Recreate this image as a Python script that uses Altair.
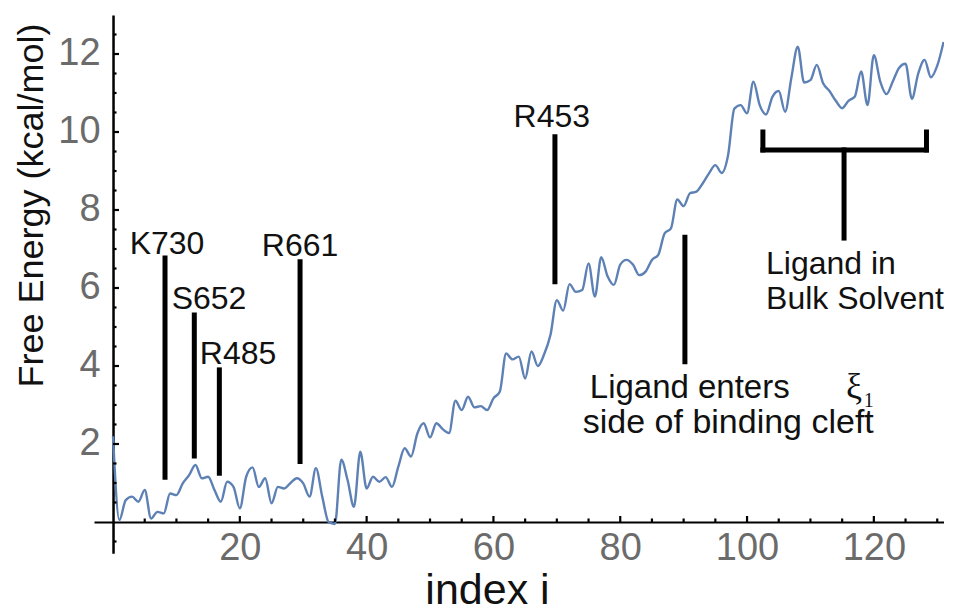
import altair as alt
import pandas as pd

# ---------------- data ----------------
index_i = list(range(0, 132))
free_energy = [
    2.2, 0.05, 0.56, 0.65, 0.52, 0.82, 0.09, 0.26, 0.22, 0.73,
    0.69, 0.99, 1.2, 1.46, 1.12, 1.16, 0.82, 0.52, 1.03, 0.9,
    0.35, 1.16, 1.40, 0.90, 1.12, 0.48, 0.9, 0.86, 1.0, 1.12,
    0.99, 0.65, 1.38, 0.65, 0.0, -0.05, 1.6, 1.07, 0.39, 1.80,
    0.86, 1.16, 1.03, 1.15, 0.9, 1.42, 1.89, 1.68, 2.27, 2.53,
    2.17, 2.53, 2.38, 2.28, 3.11, 2.87, 3.21, 2.94, 2.97, 2.87,
    3.17, 3.34, 4.32, 4.17, 4.24, 3.68, 4.37, 4.0, 4.3, 4.8,
    5.69, 5.42, 6.1, 5.9, 5.95, 6.63, 5.78, 6.79, 6.3, 6.08,
    6.6, 6.72, 6.6, 6.33, 6.42, 6.72, 6.85, 7.40, 7.53, 8.27,
    8.10, 8.43, 8.47, 8.68, 8.94, 9.15, 8.95, 9.4, 10.6, 10.69,
    10.48, 11.29, 10.69, 10.45, 10.9, 11.05, 10.52, 11.4, 12.19, 11.27,
    11.33, 11.72, 11.25, 11.05, 10.8, 10.61, 10.8, 10.91, 11.55, 10.69,
    11.97, 11.3, 10.97, 11.3, 11.65, 11.75, 10.85, 11.5, 11.85, 11.4,
    11.7, 12.31,
]

# residue markers (vertical bars) and the bracket
seg_x = [8.2, 12.82, 16.77, 29.5, 69.7, 90.2, 102.5, 102.5, 128.3, 115.3]
seg_x2 = [8.2, 12.82, 16.77, 29.5, 69.7, 90.2, 128.3, 102.5, 128.3, 115.3]
seg_y = [6.77, 5.31, 3.9, 6.67, 9.88, 7.3, 9.54, 10.0, 10.0, 9.54]
seg_y2 = [1.15, 1.69, 1.25, 1.55, 6.16, 4.11, 9.54, 9.54, 9.54, 7.28]

res_labels = ["K730", "S652", "R485", "R661", "R453"]
res_x = [8.52, 15.14, 19.72, 29.5, 69.2]
res_y = [6.86, 5.47, 4.06, 6.83, 10.12]

note_labels = ["Ligand enters", "side of binding cleft", "Ligand in", "Bulk Solvent"]
note_x = [75.2, 74.1, 103.0, 103.0]
note_y = [3.19, 2.27, 6.37, 5.47]
note_size = [33, 34, 32, 32]

xi_labels = ["ξ", "1"]
xi_x = [115.6, 118.4]
xi_y = [3.19, 2.95]
xi_size = [36, 20]

x_labels = [20, 40, 60, 80, 100, 120]
x_ticks = [v for v in range(5, 131, 5)]
y_labels = [2, 4, 6, 8, 10, 12]
y_ticks = [v / 2 for v in range(-1, 26) if v != 0]

# ---------------- layout ----------------
X_DOM = [-3, 131]
Y_DOM = [-0.8, 13]
W = 849.6
H = 538.2
PX_X = W / (X_DOM[1] - X_DOM[0])       # pixels per index unit
PX_Y = H / (Y_DOM[1] - Y_DOM[0])       # pixels per kcal/mol
X0PX = -X_DOM[0] * PX_X                 # pixel of x=0 in plot
Y0PX = Y_DOM[1] * PX_Y                  # pixel of y=0 in plot

FONT = "Liberation Sans"
xs = alt.Scale(domain=X_DOM, nice=False, zero=False)
ys = alt.Scale(domain=Y_DOM, nice=False, zero=False)

line_df = pd.DataFrame({"i": index_i, "e": free_energy})
seg_df = pd.DataFrame({"x": seg_x, "x2": seg_x2, "y": seg_y, "y2": seg_y2})
res_df = pd.DataFrame({"t": res_labels, "x": res_x, "y": res_y})
note_df = pd.DataFrame({"t": note_labels, "x": note_x, "y": note_y, "s": note_size})
xi_df = pd.DataFrame({"t": xi_labels, "x": xi_x, "y": xi_y, "s": xi_size})

# inward-pointing axis ticks (major 6 px, minor 3.5 px), built from the tick values
xt_df = pd.DataFrame({
    "x": x_ticks,
    "y": [0.0] * len(x_ticks),
    "y2": [(6 if v % 20 == 0 else 3.5) / PX_Y for v in x_ticks],
})
yt_df = pd.DataFrame({
    "y": y_ticks,
    "x": [0.0] * len(y_ticks),
    "x2": [(6 if v % 2 == 0 else 3.5) / PX_X for v in y_ticks],
})

line = alt.Chart(line_df).mark_line(
    color="#5E81B5", strokeWidth=2.4, interpolate="monotone"
).encode(
    x=alt.X("i:Q", scale=xs, axis=alt.Axis(
        orient="bottom", offset=-(H - Y0PX), values=x_labels, ticks=False, tickSize=0,
        domainColor="black", domainWidth=2, grid=False,
        labelFont=FONT, labelFontSize=38, labelColor="#6b6b6b", labelPadding=8,
        title="index i", titleFont=FONT, titleFontSize=43, titleFontWeight="normal",
        titleColor="#111111", titleX=393, titleY=82, titleBaseline="alphabetic",
        titleAlign="center")),
    y=alt.Y("e:Q", scale=ys, axis=alt.Axis(
        orient="left", offset=-X0PX, values=y_labels, ticks=False, tickSize=0,
        domainColor="black", domainWidth=2.5, grid=False,
        labelFont=FONT, labelFontSize=38, labelColor="#6b6b6b", labelPadding=13,
        title="Free Energy (kcal/mol)", titleFont=FONT, titleFontSize=36,
        titleFontWeight="normal", titleColor="#111111", titleAngle=-90,
        titleX=-71, titleY=190, titleBaseline="alphabetic", titleAlign="center")),
)

xticks = alt.Chart(xt_df).mark_rule(color="black", strokeWidth=2.2).encode(
    x=alt.X("x:Q", scale=xs, axis=None),
    y=alt.Y("y:Q", scale=ys, axis=None),
    y2="y2:Q",
)

yticks = alt.Chart(yt_df).mark_rule(color="black", strokeWidth=2.2).encode(
    y=alt.Y("y:Q", scale=ys, axis=None),
    x=alt.X("x:Q", scale=xs, axis=None),
    x2="x2:Q",
)

bars = alt.Chart(seg_df).mark_rule(color="black", strokeWidth=5, strokeCap="square").encode(
    x=alt.X("x:Q", scale=xs, axis=None),
    x2="x2:Q",
    y=alt.Y("y:Q", scale=ys, axis=None),
    y2="y2:Q",
)

res_text = alt.Chart(res_df).mark_text(
    font=FONT, fontSize=32, color="#111111", align="center", baseline="alphabetic"
).encode(
    x=alt.X("x:Q", scale=xs, axis=None),
    y=alt.Y("y:Q", scale=ys, axis=None),
    text="t:N",
)

note_text = alt.Chart(note_df).mark_text(
    font=FONT, color="#111111", align="left", baseline="alphabetic"
).encode(
    x=alt.X("x:Q", scale=xs, axis=None),
    y=alt.Y("y:Q", scale=ys, axis=None),
    size=alt.Size("s:Q", scale=None, legend=None),
    text="t:N",
)

xi_text = alt.Chart(xi_df).mark_text(
    font="Liberation Serif", color="#111111", align="left", baseline="alphabetic"
).encode(
    x=alt.X("x:Q", scale=xs, axis=None),
    y=alt.Y("y:Q", scale=ys, axis=None),
    size=alt.Size("s:Q", scale=None, legend=None),
    text="t:N",
)

chart = alt.layer(
    line, xticks, yticks, bars, res_text, note_text, xi_text,
).resolve_axis(
    x="independent", y="independent"
).properties(
    width=W, height=H, autosize="none",
    padding={"left": 86, "top": 7, "right": 0, "bottom": 58},
).configure_view(stroke=None)

chart.save("out.html", embed_options={"renderer": "svg", "actions": False})
